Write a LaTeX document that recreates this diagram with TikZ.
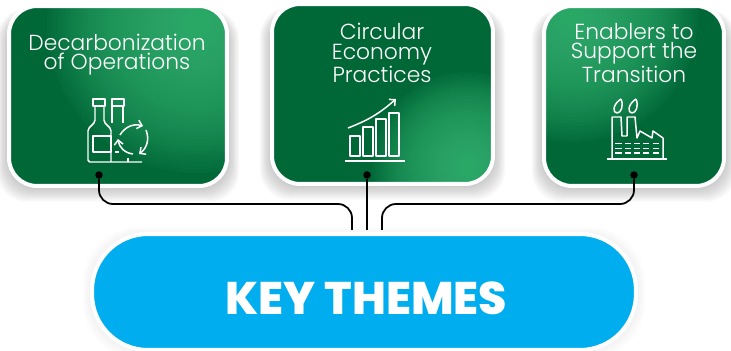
\documentclass[tikz,border=0pt]{standalone}
\usepackage{fontspec}
\usetikzlibrary{arrows.meta}
\setmainfont{Poppins Light}
\newfontfamily\boldface{Poppins ExtraBold}
\definecolor{cardgreen}{HTML}{006837}
\definecolor{glowgreen}{HTML}{3CBA78}
\definecolor{pillblue}{HTML}{00AEEF}
\begin{document}
\begin{tikzpicture}[x=0.02cm,y=-0.02cm,
    greencard/.style n args={2}{rounded corners=0.56cm, draw=white, line width=0.08cm, fill=cardgreen, minimum height=3.6cm,
      path picture={\foreach \i in {1,...,40} {\fill[glowgreen,opacity=0.05] ([shift={(#1)}]path picture bounding box.center) circle ({\i*#2/40});}}},
    cardtitle/.style ={text=white, align=center, font=\fontsize{12.4}{11.2}\selectfont},
    icon/.style ={draw=white, line width=0.85pt, line join=round},
    turn/.style ={icon, -{Straight Barb[length=2.6pt,width=5pt]}},
    wire/.style ={draw=black, line width=1pt, rounded corners=0.28cm},
    pindot/.style ={circle, fill=black, inner sep = 0pt, minimum size=0.15cm}]
   \useasboundingbox (0,0) rectangle (731,351);

   % soft shadows
   \foreach \g in {1,2,...,18} {
     \fill[black,opacity=0.015,rounded corners=0.6cm] (11-0.8*\g,16-0.4*\g) rectangle (225+0.8*\g,184+\g);
     \fill[black,opacity=0.015,rounded corners=0.6cm] (274-0.8*\g,14-0.4*\g) rectangle (491+0.8*\g,182+\g);
     \fill[black,opacity=0.015,rounded corners=0.6cm] (546-0.8*\g,16-0.4*\g) rectangle (722+0.8*\g,184+\g);
   }
   \foreach \g in {1,3,...,7} {
     \fill[black,opacity=0.01,rounded corners=1.1cm] (90-\g,234-\g) rectangle (638+\g,351+\g);
   }

   \node[greencard={79,-73}{150}, minimum width=4.36cm] (cardA) at (118,96) {};
   \node[greencard={85,73}{95}, minimum width=4.42cm] (cardB) at (382.5,94) {};
   \node[greencard={-61,-79}{125}, minimum width=3.6cm] (cardC) at (634,96) {};
   \node[rounded corners=1.12cm, draw=white, line width=0.08cm, fill=pillblue, minimum width=10.88cm, minimum height=2.32cm] (pill) at (364,292) {};

   \node[cardtitle] (titleA) at (117,54.5) {Decarbonization\\of Operations};
   \node[cardtitle] (titleB) at (382,53) {Circular\\Economy\\Practices};
   \node[cardtitle] (titleC) at (634,53) {Enablers to\\Support the\\Transition};
   \node[text=white, font=\boldface\fontsize{26}{26}\selectfont] (keythemes) at (366.5,298) {KEY THEMES};

   \node[pindot] (dotA) at (99,175) {};
   \node[pindot] (dotB) at (367,175) {};
   \node[pindot] (dotC) at (634,175) {};
   \coordinate (entryA) at (352,230);
   \coordinate (entryB) at (367,230);
   \coordinate (entryC) at (382,230);
   \coordinate (railA) at (225,204);
   \coordinate (railC) at (508,204);

   \draw[wire] (dotA) |- (railA) -| (entryA);
   \draw[wire] (dotB) -- (entryB);
   \draw[wire] (dotC) |- (railC) -| (entryC);

   % bottles
   \draw[icon,rounded corners=1pt] (95,106) -- (95,122) -- (88,129) -- (88,162) -- (142,162);
   \draw[icon,rounded corners=1pt] (104,106) -- (104,122) -- (111,129) -- (111,162);
   \draw[icon] (93,99) rectangle (105,106);
   \draw[icon] (93,136) rectangle (111,152);
   \draw[icon] (112,99) rectangle (124,106);
   \draw[icon] (112,106) -- (112,123);
   \draw[icon] (123,106) -- (123,123);
   \draw[icon] (115,152) -- (119,152);
   \draw[icon] (128,158) -- (128,162);
   \draw[turn] (120,135) to[bend left=38] (143,126);
   \draw[turn] (146,130) to[bend left=38] (139,154);
   \draw[turn] (133,154) to[bend left=38] (118,139);

   % bar chart
   \draw[icon] (350,136) rectangle (360,156);
   \draw[icon] (363,127) rectangle (373,156);
   \draw[icon] (376,119) rectangle (386,156);
   \draw[icon] (389,113) rectangle (399,156);
   \draw[icon] (345,161) -- (405,161);
   \draw[turn] (348,128) to[bend right=10] (396,99);

   % factory
   \draw[icon] (607,159) -- (667,159);
   \draw[icon] (612,159) -- (612,117) -- (621,117) -- (622,136) -- (627,136) -- (627,117) -- (635,117) -- (637,138)
     -- (640,131) -- (652,138) -- (653,131) -- (663,138) -- (663,159);
   \foreach \row in {143.5,148.5,153} {
     \foreach \lft/\rgt in {615/622,625/631,634/640,643/649,653/659} {
       \draw[icon] (\lft,\row) -- (\rgt,\row);
     }
   }
   \draw[icon] (621,99) .. controls (624,106) and (621,113) .. (617,113) .. controls (612,113) and (613,104) .. (621,99);
   \draw[icon] (636,99) .. controls (639,106) and (636,113) .. (632,113) .. controls (627,113) and (628,104) .. (636,99);
\end{tikzpicture}
\end{document}
